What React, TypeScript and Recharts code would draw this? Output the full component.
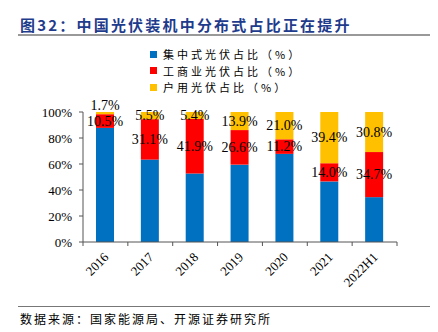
import React from 'react';
import { BarChart, Bar, XAxis, YAxis, LabelList } from 'recharts';

const categories = ['2016', '2017', '2018', '2019', '2020', '2021', '2022H1'];
const centralized = [87.8, 63.4, 52.7, 59.5, 67.8, 46.6, 34.5];
const commercial = [10.5, 31.1, 41.9, 26.6, 11.2, 14.0, 34.7];
const residential = [1.7, 5.5, 5.4, 13.9, 21.0, 39.4, 30.8];
const yTicks = [0, 20, 40, 60, 80, 100];

const seriesNames = ['集中式光伏占比（%）', '工商业光伏占比（%）', '户用光伏占比（%）'];
const colors = ['#0070C0', '#FF0000', '#FFC000'];

const W = 438;
const H = 332;
const margin = { top: 112, right: 41, bottom: 30, left: 23 };
const Y_AXIS_W = 60;
const X_AXIS_H = 60;
const plotW = W - margin.left - margin.right - Y_AXIS_W;

const data = categories.map((c, i) => ({
  name: c,
  centralized: centralized[i],
  commercial: commercial[i],
  residential: residential[i],
}));

const serif = '"Liberation Serif", "Times New Roman", serif';
const cjk = '"Noto Sans CJK SC", sans-serif';

const XTick = (props: any) => {
  const { x, y, payload, index } = props;
  const band = plotW / categories.length;
  const left = x - band / 2;
  return (
    <g>
      <line x1={left} y1={y} x2={left} y2={y + 4} stroke="#555" />
      {index === categories.length - 1 && (
        <line x1={x + band / 2} y1={y} x2={x + band / 2} y2={y + 4} stroke="#555" />
      )}
      <text
        x={x + 4}
        y={y + 16}
        textAnchor="end"
        transform={`rotate(-45, ${x + 4}, ${y + 16})`}
        fontFamily={serif}
        fontSize={13}
        fill="#000"
      >
        {payload.value}
      </text>
    </g>
  );
};

const SegLabel = (props: any) => {
  const { x, y, width, height, value } = props;
  const small = height < 6;
  const cy = small ? y - 7 : y + height / 2;
  return (
    <text
      x={x + width / 2}
      y={cy}
      textAnchor="middle"
      dominantBaseline="central"
      fontFamily={serif}
      fontSize={14}
      fill="#000"
    >
      {`${Number(value).toFixed(1)}%`}
    </text>
  );
};

export default function App() {
  return (
    <div style={{ position: 'absolute', left: 0, top: 0, width: W, height: H, background: '#fff' }}>
      <div
        style={{
          position: 'absolute',
          left: 20,
          top: 14,
          fontFamily: cjk,
          fontWeight: 700,
          fontSize: 15,
          color: '#1F3B8C',
          letterSpacing: 2.2,
          whiteSpace: 'nowrap',
        }}
      >
        图32：中国光伏装机中分布式占比正在提升
      </div>
      <div style={{ position: 'absolute', left: 18, top: 34, width: 412, height: 2, background: '#999' }} />
      <div style={{ position: 'absolute', left: 150, top: 46, fontFamily: cjk, fontSize: 11, color: '#000' }}>
        {seriesNames.map((n, i) => (
          <div key={n} style={{ display: 'flex', alignItems: 'center', height: 16.5 }}>
            <span style={{ width: 7, height: 7, background: colors[i], marginRight: 6, display: 'inline-block' }} />
            <span style={{ letterSpacing: 3 }}>{n}</span>
          </div>
        ))}
      </div>
      <div style={{ position: 'absolute', left: 0, top: 0 }}>
        <BarChart width={W} height={H} data={data} margin={margin} barSize={18}>
          <XAxis
            dataKey="name"
            height={X_AXIS_H}
            interval={0}
            tickLine={false}
            tickSize={0}
            tickMargin={0}
            axisLine={{ stroke: '#555' }}
            tick={<XTick />}
          />
          <YAxis
            width={Y_AXIS_W}
            domain={[0, 100]}
            ticks={yTicks}
            tickFormatter={(v: number) => `${v}%`}
            tickSize={4}
            tickMargin={7}
            axisLine={{ stroke: '#555' }}
            tickLine={{ stroke: '#555' }}
            tick={{ fontFamily: serif, fontSize: 13, fill: '#000' }}
          />
          <Bar dataKey="centralized" stackId="a" fill={colors[0]} isAnimationActive={false} />
          <Bar dataKey="commercial" stackId="a" fill={colors[1]} isAnimationActive={false}>
            <LabelList dataKey="commercial" content={<SegLabel />} />
          </Bar>
          <Bar dataKey="residential" stackId="a" fill={colors[2]} isAnimationActive={false}>
            <LabelList dataKey="residential" content={<SegLabel />} />
          </Bar>
        </BarChart>
      </div>
      <div style={{ position: 'absolute', left: 18, top: 306, width: 412, height: 1, background: '#777' }} />
      <div
        style={{
          position: 'absolute',
          left: 20,
          top: 310,
          fontFamily: cjk,
          fontSize: 12,
          letterSpacing: 2,
          color: '#000',
          whiteSpace: 'nowrap',
        }}
      >
        数据来源：国家能源局、开源证券研究所
      </div>
    </div>
  );
}
